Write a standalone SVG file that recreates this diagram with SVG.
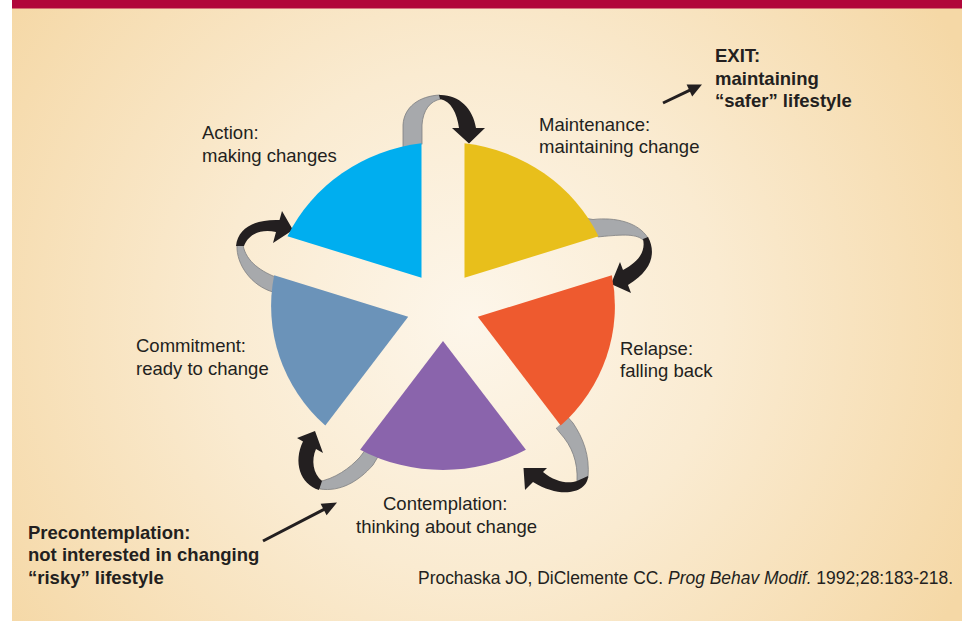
<svg xmlns="http://www.w3.org/2000/svg" width="962" height="621" viewBox="0 0 962 621">
  <defs>
    <radialGradient id="bg" gradientUnits="userSpaceOnUse" cx="470" cy="320" r="560">
      <stop offset="0" stop-color="#FDF6EA"/>
      <stop offset="0.45" stop-color="#FAEBD1"/>
      <stop offset="1" stop-color="#F5D8A6"/>
    </radialGradient>
    <!-- everything outside the wheel outline -->
    <clipPath id="outsideWheel">
      <path clip-rule="evenodd" d="M0,0H962V621H0Z M272,306 A171,163 0 1 0 614,306 A171,163 0 1 0 272,306 Z"/>
    </clipPath>
    <style>
      .t { font-family: "Liberation Sans", Arial, Helvetica, sans-serif; font-size: 18.5px; fill: #231F20; }
      .b { font-weight: bold; }
      .cite { font-size: 17.45px; }
      .ribbon { fill: #A7A9AC; stroke: #7D7F82; stroke-width: 0.8; }
      .turn { fill: #231F20; }
      .pointer { stroke: #231F20; stroke-width: 3; fill: none; }
      .pointer-head { fill: #231F20; }
    </style>
  </defs>

  <!-- page -->
  <rect width="962" height="621" fill="#FFFFFF"/>
  <rect x="12" y="0" width="950" height="621" fill="url(#bg)"/>
  <rect x="12" y="0" width="950" height="8.5" fill="#B1063A"/>

  <!-- cycle connectors: grey ribbon leaving a stage, black turn with head entering the next -->
  <g id="connectors">
    <g clip-path="url(#outsideWheel)">
      <!-- Action -> Maintenance -->
      <path class="ribbon" d="M403,152 L403,125 C404,107 419,96 440,95 L441,99 C430,101 423,110 422,125 L422,152 Z"/>
      <!-- Maintenance -> Relapse -->
      <path class="ribbon" d="M584,218 L593,219.5 C615,217 638,222 648,238 L643,240 C636,233 618,235 597,237 L586,238 Z"/>
      <!-- Relapse -> Contemplation -->
      <path class="ribbon" d="M565,414 L573,423 C583,438 590,455 588,478 L577,481 C578,462 572,446 560,433 L553,424 Z"/>
      <!-- Contemplation -> Commitment -->
      <path class="ribbon" d="M366,449 L360,457 C350,468 335,479 317,482 L320,489 C340,492 358,482 373,465 L379,455 Z"/>
      <!-- Commitment -> Action -->
      <path class="ribbon" d="M288,280 L278,278 C262,272 246,262 243,245 L237,245 C236,265 252,286 273,292 L287,295 Z"/>
    </g>
    <path class="turn" d="M439,95 C458,94 473,108 476,128 L485,128 L469,143.5 L452,128 L459,128 C457,113 451,101 440,99 Z"/>
    <path class="turn" d="M643,239 L648,237 C656,252 653,270 628,285 L631,293 L611,284 L620,262 L623,270 C638,262 646,252 643,239 Z"/>
    <path class="turn" d="M577,481 L588,476 C588,492 562,500 533,482 L525,490 L523.5,468 L547,468 L543,472 C555,482 568,484 577,481 Z"/>
    <path class="turn" d="M322,481 L319,490 C300,484 293,462 303,441.5 L297,438 L315,431 L323,453 L316,449 C311,460 313,474 322,481 Z"/>
    <path class="turn" d="M236,246 C238,228 255,219 279.5,220 L282,211 L293,230 L273,243 L276,232 C262,229 249,233 244,246 Z"/>

    <!-- entry and exit pointers -->
    <line class="pointer" x1="663" y1="103" x2="690" y2="90.2"/>
    <polygon class="pointer-head" points="702,84.5 692.2,96.4 686.6,84.6"/>
    <line class="pointer" x1="263" y1="541" x2="325" y2="508.8"/>
    <polygon class="pointer-head" points="337,502.5 326.6,515.3 320.6,503.7"/>
  </g>

  <!-- stage wedges, drawn on a unit-circle frame stretched slightly wide -->
  <g transform="translate(443,306) scale(1.048,1)">
    <g id="maintenance">
      <path d="M20.5,-28.2 L20.5,-162.7 A164,164 0 0 1 148.4,-69.8 Z" fill="#E8BF1B"/>
    </g>
    <g id="relapse">
      <path d="M33.2,10.8 L161.1,-30.8 A164,164 0 0 1 112.3,119.6 Z" fill="#EE5A2F"/>
    </g>
    <g id="contemplation">
      <path d="M0,34.9 L79.1,143.7 A164,164 0 0 1 -79.1,143.7 Z" fill="#8A64AC"/>
    </g>
    <g id="commitment">
      <path d="M-33.2,10.8 L-112.3,119.6 A164,164 0 0 1 -161.1,-30.8 Z" fill="#6B93B9"/>
    </g>
    <g id="action">
      <path d="M-20.5,-28.2 L-148.4,-69.8 A164,164 0 0 1 -20.5,-162.7 Z" fill="#00AEEF"/>
    </g>
  </g>

  <!-- stage labels -->
  <g id="label-action" class="t">
    <text x="202" y="139">Action:</text>
    <text x="202" y="162">making changes</text>
  </g>
  <g id="label-maintenance" class="t">
    <text x="539" y="131">Maintenance:</text>
    <text x="539" y="153">maintaining change</text>
  </g>
  <g id="label-exit" class="t b">
    <text x="715" y="61.5">EXIT:</text>
    <text x="715" y="84.5">maintaining</text>
    <text x="715" y="107">“safer” lifestyle</text>
  </g>
  <g id="label-relapse" class="t">
    <text x="620" y="355">Relapse:</text>
    <text x="620" y="377">falling back</text>
  </g>
  <g id="label-commitment" class="t">
    <text x="136" y="352">Commitment:</text>
    <text x="136" y="375">ready to change</text>
  </g>
  <g id="label-contemplation" class="t">
    <text x="383" y="510">Contemplation:</text>
    <text x="356" y="533">thinking about change</text>
  </g>
  <g id="label-precontemplation" class="t b">
    <text x="28" y="539">Precontemplation:</text>
    <text x="28" y="561">not interested in changing</text>
    <text x="28" y="584">“risky” lifestyle</text>
  </g>
  <text id="citation" class="t cite" x="418" y="584">Prochaska JO, DiClemente CC. <tspan font-style="italic">Prog Behav Modif.</tspan> 1992;28:183-218.</text>
</svg>
